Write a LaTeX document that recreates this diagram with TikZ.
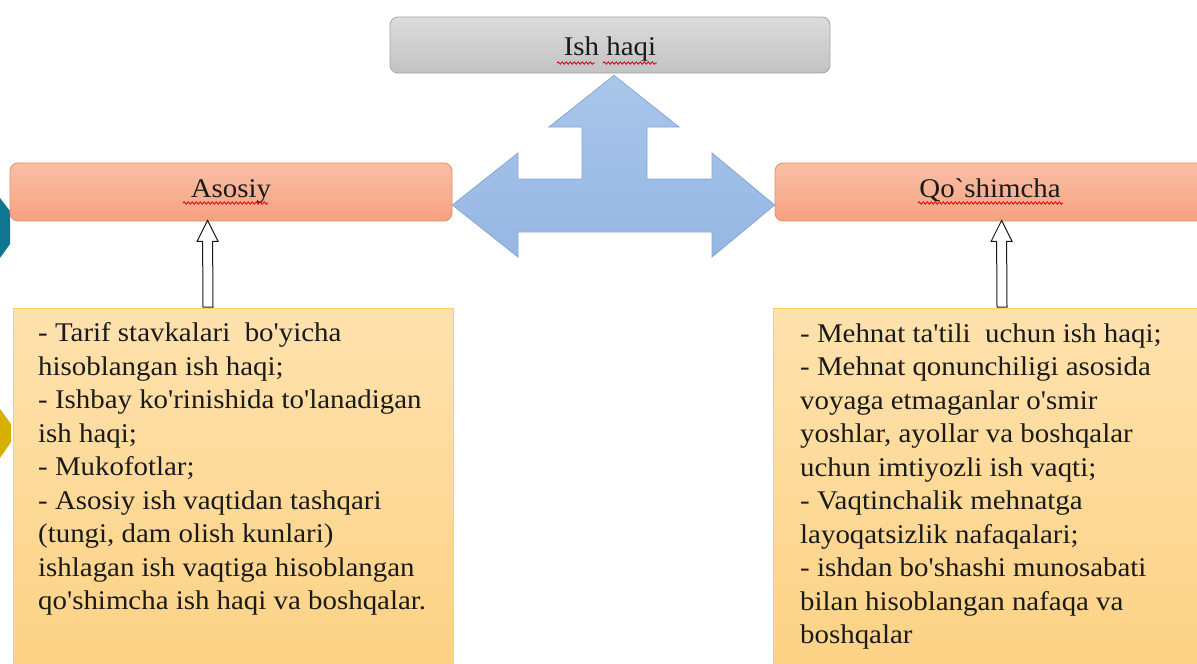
\documentclass[tikz,border=0pt]{standalone}
\usepackage{fontspec}
\setmainfont{Liberation Serif}[FakeStretch=1.07, Ligatures=TeXOff]
\usetikzlibrary{calc,decorations.pathmorphing}
\definecolor{txtc}{HTML}{1A1A1A}
\definecolor{grayT}{HTML}{DCDCDC}
\definecolor{grayB}{HTML}{C2C2C2}
\definecolor{grayD}{HTML}{A5A5A5}
\definecolor{salT}{HTML}{F9BFA6}
\definecolor{salB}{HTML}{F5A281}
\definecolor{salD}{HTML}{E59066}
\definecolor{yelT}{HTML}{FEE2AD}
\definecolor{yelB}{HTML}{FCD080}
\definecolor{yelD}{HTML}{F6D45C}
\definecolor{bluT}{HTML}{A9C6EA}
\definecolor{bluB}{HTML}{96B7E3}
\definecolor{bluD}{HTML}{82A8D8}
\definecolor{tealc}{HTML}{0F7590}
\definecolor{goldc}{HTML}{D6B000}
\tikzset{
  titlebox/.style={rounded corners=8pt, inner sep=0pt, line width=0.8pt,
    font=\fontsize{27}{33.5}\selectfont, text=txtc, text depth=0pt},
  graybox/.style={titlebox, draw=grayD, top color=grayT, bottom color=grayB},
  salbox/.style={titlebox, draw=salD, top color=salT, bottom color=salB},
  notebox/.style={draw=yelD, line width=1pt, top color=yelT, bottom color=yelB,
    inner sep=0pt, anchor=north west},
  notetext/.style={anchor=north west, inner sep=0pt, align=left, text=txtc,
    font=\fontsize{27}{33.5}\selectfont},
  hollow/.style={draw=black!90, fill=white, line width=1pt, line join=miter},
  bigarrow/.style={draw=bluD, line width=0.8pt, top color=bluT, bottom color=bluB},
  spell/.style={draw=red!85!black, line width=0.8pt,
    decorate, decoration={snake, segment length=4pt, amplitude=1.2pt}}
}
\begin{document}
\begin{tikzpicture}[x=1pt,y=-1pt]
\useasboundingbox (0,0) rectangle (1197,664);
\clip (0,0) rectangle (1197,664);
\fill[white] (0,0) rectangle (1197,664);

% partial shapes at the left edge
\fill[tealc] (0,198) -- (10,211) -- (10,244) -- (0,258) -- cycle;
\fill[goldc] (0,409) -- (11,424) -- (11,442) -- (0,458) -- cycle;

% title boxes
\node[graybox, minimum width=440pt, minimum height=56pt, text height=20pt] (top) at (610,45) {Ish haqi};
\node[salbox, minimum width=442pt, minimum height=58pt, text height=10pt] (asosiy) at (231,192) {Asosiy};
\node[salbox, minimum width=430pt, minimum height=58pt, text height=10pt] (qosh) at (990,192) {Qo`shimcha};

% spell-check underlines
\draw[spell] (557,63) -- (595,63);
\draw[spell] (603,63) -- (657,63);
\draw[spell] (183,203) -- (268,203);
\draw[spell] (918,203) -- (1063,203);

% note boxes
\node[notebox, minimum width=440pt, minimum height=400pt] (lbox) at (13,308) {};
\node[notebox, minimum width=440pt, minimum height=400pt] (rbox) at (773,308) {};

\node[notetext] (ltext) at (38,322.5) {- Tarif stavkalari\ \ bo'yicha\\
hisoblangan ish haqi;\\
- Ishbay ko'rinishida to'lanadigan\\
ish haqi;\\
- Mukofotlar;\\
- Asosiy ish vaqtidan tashqari\\
(tungi, dam olish kunlari)\\
ishlagan ish vaqtiga hisoblangan\\
qo'shimcha ish haqi va boshqalar.};

\node[notetext] (rtext) at (800,323.5) {- Mehnat ta'tili\ \ uchun ish haqi;\\
- Mehnat qonunchiligi asosida\\
voyaga etmaganlar o'smir\\
yoshlar, ayollar va boshqalar\\
uchun imtiyozli ish vaqti;\\
- Vaqtinchalik mehnatga\\
layoqatsizlik nafaqalari;\\
- ishdan bo'shashi munosabati\\
bilan hisoblangan nafaqa va\\
boshqalar};

% three-way blue arrow between the title boxes
\path[bigarrow] ($(top.south)+(4,2)$) coordinate (up)
  -- (679,127) -- (647,127) -- (647,179) -- (712,179) -- (712,153)
  -- (qosh.west |- 0,205) -- (712,257) -- (712,232) -- (518,232) -- (518,257)
  -- (asosiy.east |- 0,205) -- (518,153) -- (518,179) -- (582,179) -- (582,127)
  -- (549,127) -- cycle;

% hollow arrows from note boxes to title boxes
\coordinate (lt) at ($(asosiy.south west)+(198,-1)$);
\coordinate (lb) at ($(lbox.north west)+(195,-1)$);
\coordinate (rt) at ($(qosh.south west)+(227,-1)$);
\coordinate (rb) at ($(rbox.north west)+(229,-1)$);
\path[hollow] ($(lb)+(-5,0)$) -- ($(lt)+(-5,21)$) -- ($(lt)+(-10.5,21)$) -- (lt)
  -- ($(lt)+(10.5,21)$) -- ($(lt)+(5,21)$) -- ($(lb)+(5,0)$) -- cycle;
\path[hollow] ($(rb)+(-5,0)$) -- ($(rt)+(-5,21)$) -- ($(rt)+(-10.5,21)$) -- (rt)
  -- ($(rt)+(10.5,21)$) -- ($(rt)+(5,21)$) -- ($(rb)+(5,0)$) -- cycle;
\end{tikzpicture}
\end{document}
